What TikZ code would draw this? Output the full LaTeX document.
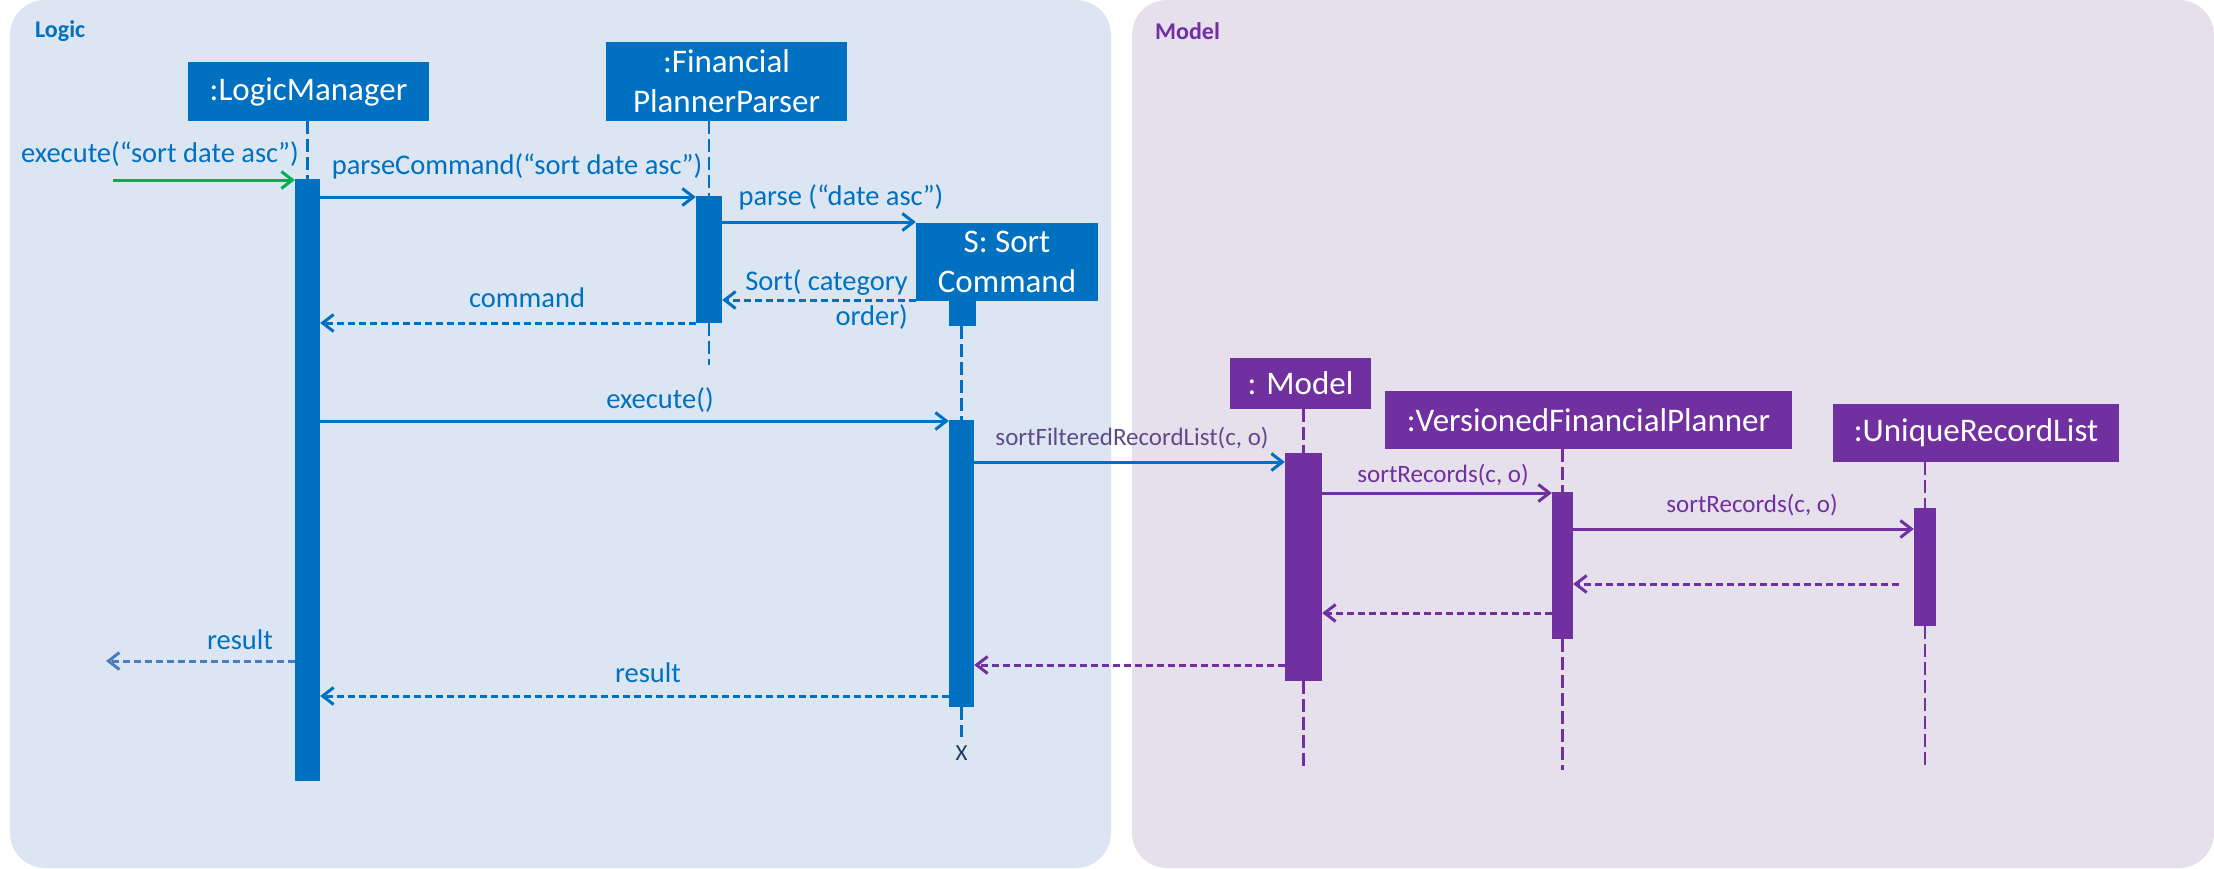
\documentclass[tikz,border=0pt]{standalone}
\usepackage{fontspec}
\setmainfont{Carlito}
\usetikzlibrary{arrows.meta}
\definecolor{lblue}{HTML}{0070C0}
\definecolor{lpurp}{HTML}{7030A0}
\definecolor{lbg}{HTML}{DCE6F2}
\definecolor{mbg}{HTML}{E6E0EC}
\definecolor{lgreen}{HTML}{00B050}
\definecolor{lsoft}{HTML}{4A7EBB}
\definecolor{lgrayp}{HTML}{5F4B8B}
\definecolor{xnavy}{HTML}{1F3864}
\tikzset{
  objbox/.style={inner sep=0pt, align=center, text=white, font=\fontsize{33}{40}\selectfont},
  bluebox/.style={objbox, fill=lblue},
  purpbox/.style={objbox, fill=lpurp},
  bluebar/.style={fill=lblue, inner sep=0pt},
  purpbar/.style={fill=lpurp, inner sep=0pt},
  lifeline/.style={line width=2.2pt, dash pattern=on 13pt off 5pt},
  callmsg/.style={line width=3pt, -{Straight Barb[length=11pt,width=17pt]}},
  retmsg/.style={callmsg, dash pattern=on 7pt off 4pt},
  bluelbl/.style={text=lblue, inner sep=0pt, font=\fontsize{28.5}{34}\selectfont},
  purplbl/.style={text=lpurp, inner sep=0pt, font=\fontsize{25}{30}\selectfont},
  paneltitle/.style={inner sep=0pt, anchor=west, font=\bfseries\fontsize{24}{28}\selectfont}
}
\begin{document}
\begin{tikzpicture}[x=1pt,y=-1pt]
\useasboundingbox (0,0) rectangle (2214,868);
% panels
\fill[lbg, rounded corners=35pt] (10,0) rectangle (1111,868);
\fill[mbg, rounded corners=35pt] (1132,0) rectangle (2214,868);
\node[paneltitle, text=lblue] (tlogic) at (35,31) {Logic};
\node[paneltitle, text=lpurp] (tmodel) at (1155,31) {Model};

% object boxes
\node[bluebox, minimum width=241pt, minimum height=59pt] (lm) at (308.5,91.5) {:LogicManager};
\node[bluebox, minimum width=241pt, minimum height=79pt] (fpp) at (726.5,81.5) {:Financial\\PlannerParser};
\node[bluebox, minimum width=182pt, minimum height=78pt] (sc) at (1007,262) {S: Sort\\Command};
\node[purpbox, minimum width=141pt, minimum height=51pt] (model) at (1300.5,383.5) {: Model};
\node[purpbox, minimum width=407pt, minimum height=58pt] (vfp) at (1588.5,420) {:VersionedFinancialPlanner};
\node[purpbox, minimum width=286pt, minimum height=58pt] (url) at (1976,433) {:UniqueRecordList};

% activation bars
\node[bluebar, minimum width=25pt, minimum height=602pt] (lmbar) at (307.5,480) {};
\node[bluebar, minimum width=26pt, minimum height=127pt] (fppbar) at (709,259.5) {};
\node[bluebar, minimum width=27pt, minimum height=25pt] (scsmall) at (962.5,313.5) {};
\node[bluebar, minimum width=25pt, minimum height=287pt] (scbar) at (961.5,563.5) {};
\node[purpbar, minimum width=37pt, minimum height=228pt] (mbar) at (1303.5,567) {};
\node[purpbar, minimum width=21pt, minimum height=147pt] (vbar) at (1562.5,565.5) {};
\node[purpbar, minimum width=22pt, minimum height=118pt] (ubar) at (1925,567) {};

% lifelines
\node[text=xnavy, inner sep=0pt, font=\fontsize{23}{28}\selectfont] (scx) at (961.5,753) {X};
\coordinate (fppend) at (709,365);
\coordinate (mend) at (1303.5,770);
\coordinate (vend) at (1562.5,770);
\coordinate (uend) at (1925,770);
\draw[lifeline, lblue] (lmbar.north |- lm.south) -- (lmbar.north);
\draw[lifeline, lblue] (fppbar.north |- fpp.south) -- (fppbar.north);
\draw[lifeline, lblue] (fppbar.south) -- (fppend);
\draw[lifeline, lblue] (scsmall.south -| scbar.north) -- (scbar.north);
\draw[lifeline, lblue] (scbar.south) -- ([yshift=8pt]scx.north);
\draw[lifeline, lpurp] (mbar.north |- model.south) -- (mbar.north);
\draw[lifeline, lpurp] (mbar.south) -- (mend);
\draw[lifeline, lpurp] (vbar.north |- vfp.south) -- (vbar.north);
\draw[lifeline, lpurp] (vbar.south) -- (vend);
\draw[lifeline, lpurp] (ubar.north |- url.south) -- (ubar.north);
\draw[lifeline, lpurp] (ubar.south) -- (uend);

% messages
\coordinate (entry) at (113,180);
\coordinate (exitres) at (106,661);
\draw[callmsg, lgreen] (entry) -- (lmbar.west |- entry);
\node[bluelbl] (l1) at (160,154) {execute(“sort date asc”)};
\draw[callmsg, lblue] (lmbar.east |- 0,197) -- (fppbar.west |- 0,197);
\node[bluelbl] (l2) at (517,166) {parseCommand(“sort date asc”)};
\draw[callmsg, lblue] (fppbar.east |- 0,222) -- (sc.west |- 0,222);
\node[bluelbl] (l3) at (841,197) {parse (“date asc”)};
\draw[retmsg, lblue] (sc.west |- 0,300) -- (fppbar.east |- 0,300);
\node[bluelbl, anchor=east] (l4a) at (908,283) {Sort( category};
\node[bluelbl, anchor=east] (l4b) at (908,317) {order)};
\draw[retmsg, lblue] (fppbar.west |- 0,323) -- (lmbar.east |- 0,323);
\node[bluelbl] (l5) at (527,298) {command};
\draw[callmsg, lblue] (lmbar.east |- 0,421) -- (scbar.west |- 0,421);
\node[bluelbl] (l6) at (660,400) {execute()};
\draw[callmsg, lblue] (scbar.east |- 0,462) -- (mbar.west |- 0,462);
\node[purplbl, text=lgrayp] (l7) at (1132,438) {sortFilteredRecordList(c, o)};
\draw[callmsg, lpurp] (mbar.east |- 0,493) -- (vbar.west |- 0,493);
\node[purplbl] (l8) at (1443,475) {sortRecords(c, o)};
\draw[callmsg, lpurp] (vbar.east |- 0,529) -- (ubar.west |- 0,529);
\node[purplbl] (l9) at (1752,505) {sortRecords(c, o)};
\draw[retmsg, lpurp] ([xshift=-15pt]ubar.west |- 0,584) -- (vbar.east |- 0,584);
\draw[retmsg, lpurp] (vbar.west |- 0,613) -- (mbar.east |- 0,613);
\draw[retmsg, lpurp] (mbar.west |- 0,665) -- (scbar.east |- 0,665);
\draw[retmsg, lblue] (scbar.west |- 0,696) -- (lmbar.east |- 0,696);
\node[bluelbl] (l10) at (648,673) {result};
\draw[retmsg, lsoft] (lmbar.west |- exitres) -- (exitres);
\node[bluelbl] (l11) at (240,640) {result};
\end{tikzpicture}
\end{document}
